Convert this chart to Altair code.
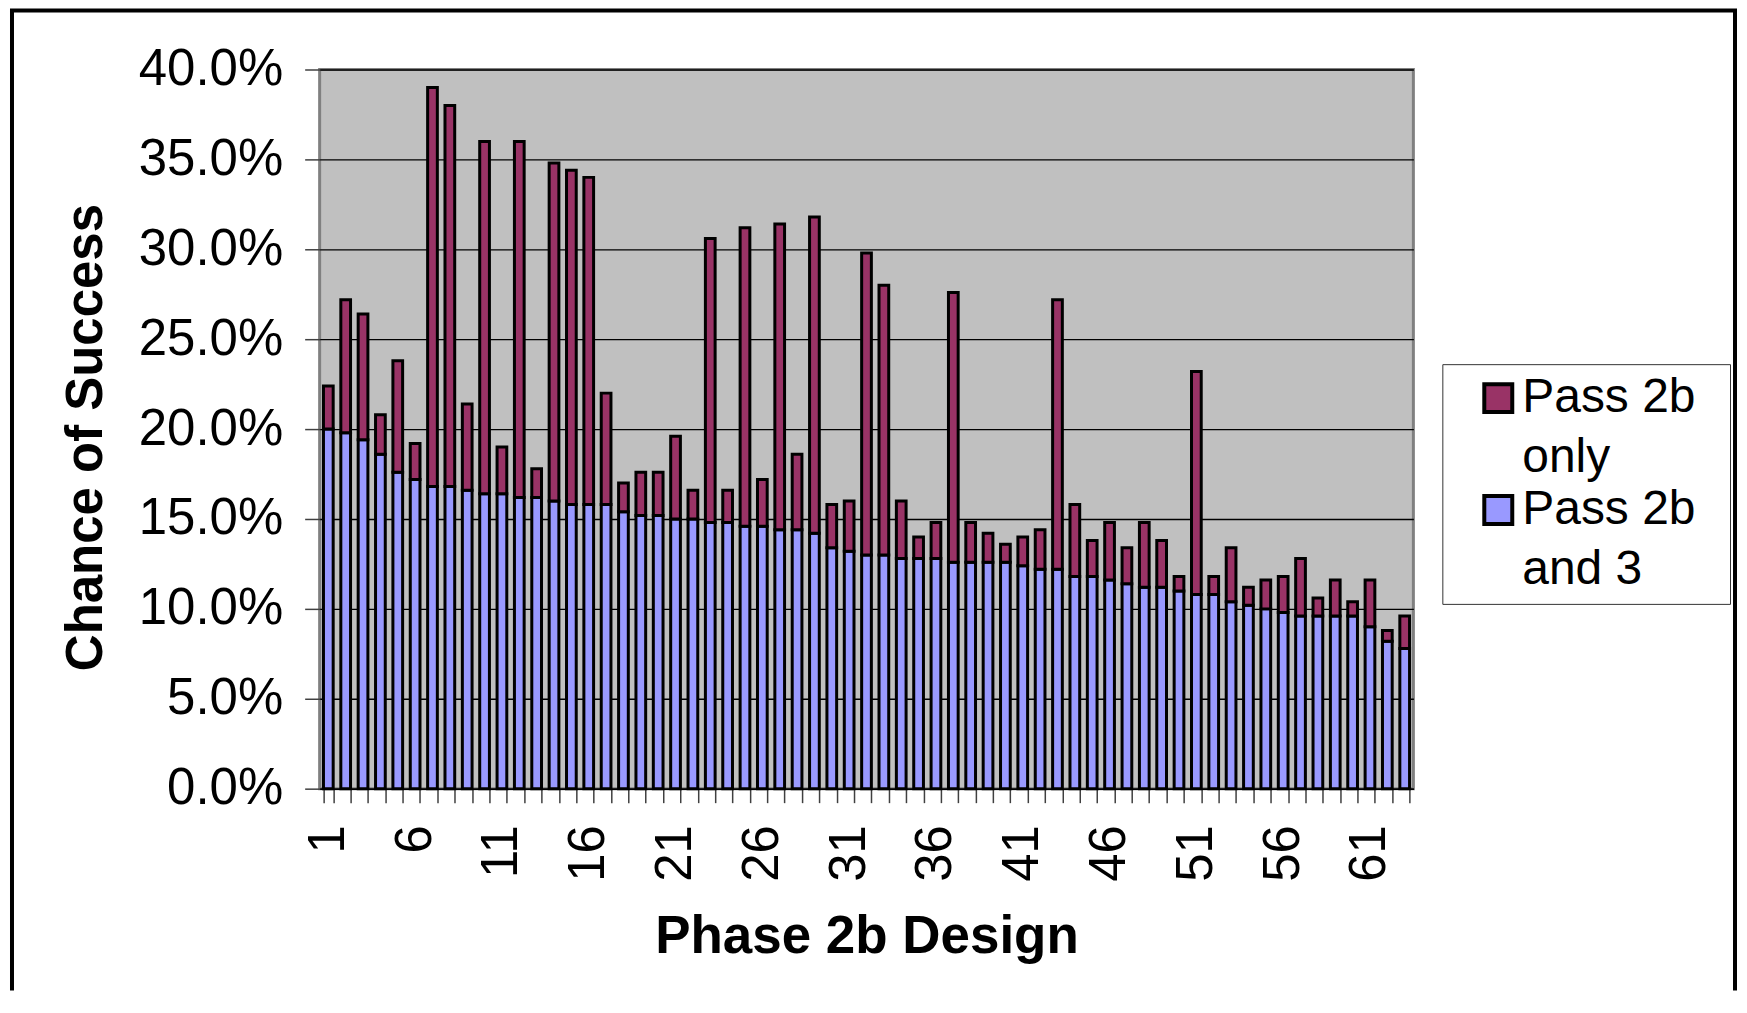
import altair as alt
import pandas as pd

# ---- data (percent) ----
designs = list(range(1, 64))
pass_2b_total = [22.4, 27.2, 26.4, 20.8, 23.8, 19.2, 39.0, 38.0, 21.4, 36.0,
                 19.0, 36.0, 17.8, 34.8, 34.4, 34.0, 22.0, 17.0, 17.6, 17.6,
                 19.6, 16.6, 30.6, 16.6, 31.2, 17.2, 31.4, 18.6, 31.8, 15.8,
                 16.0, 29.8, 28.0, 16.0, 14.0, 14.8, 27.6, 14.8, 14.2, 13.6,
                 14.0, 14.4, 27.2, 15.8, 13.8, 14.8, 13.4, 14.8, 13.8, 11.8,
                 23.2, 11.8, 13.4, 11.2, 11.6, 11.8, 12.8, 10.6, 11.6, 10.4,
                 11.6, 8.8, 9.6]
pass_2b_and_3 = [20.0, 19.8, 19.4, 18.6, 17.6, 17.2, 16.8, 16.8, 16.6, 16.4,
                 16.4, 16.2, 16.2, 16.0, 15.8, 15.8, 15.8, 15.4, 15.2, 15.2,
                 15.0, 15.0, 14.8, 14.8, 14.6, 14.6, 14.4, 14.4, 14.2, 13.4,
                 13.2, 13.0, 13.0, 12.8, 12.8, 12.8, 12.6, 12.6, 12.6, 12.6,
                 12.4, 12.2, 12.2, 11.8, 11.8, 11.6, 11.4, 11.2, 11.2, 11.0,
                 10.8, 10.8, 10.4, 10.2, 10.0, 9.8, 9.6, 9.6, 9.6, 9.6,
                 9.0, 8.2, 7.8]
series_names = ["Pass 2b only", "Pass 2b and 3"]
series_colors = ["#993366", "#9999FF"]
y_ticks = [0.0, 0.05, 0.10, 0.15, 0.20, 0.25, 0.30, 0.35, 0.40]

rows = []
for d, tot, both in zip(designs, pass_2b_total, pass_2b_and_3):
    rows.append({"design": d, "series": series_names[1], "lo": 0.0, "hi": both / 100})
    rows.append({"design": d, "series": series_names[0], "lo": both / 100, "hi": tot / 100})
df = pd.DataFrame(rows)

FONT = "Liberation Sans"
W, H = 1095, 720

bars = alt.Chart(df).mark_bar(stroke="black", strokeWidth=3).encode(
    x=alt.X(
        "design:O",
        scale=alt.Scale(paddingInner=0.44, paddingOuter=0.22),
        title="Phase 2b Design",
        axis=alt.Axis(
            labelAngle=-90,
            labelExpr="(datum.value - 1) % 5 == 0 ? datum.label : ''",
            labelOverlap=False,
            labelFontSize=51,
            labelPadding=22,
            tickBand="extent",
            tickSize=14,
            tickColor="#404040",
            tickWidth=1.5,
            domainColor="black",
            domainWidth=1.5,
            grid=False,
            titleFontSize=53,
            titleFontWeight="bold",
            titlePadding=29,
        ),
    ),
    y=alt.Y(
        "lo:Q",
        scale=alt.Scale(domain=[0, 0.4], nice=False),
        title="Chance of Success",
        axis=alt.Axis(
            values=y_ticks,
            format=".1%",
            labelFontSize=51,
            labelPadding=22,
            tickSize=15,
            tickColor="#404040",
            tickWidth=1.5,
            domain=False,
            grid=True,
            gridColor="black",
            gridWidth=1.3,
            titleFontSize=51,
            titleFontWeight="bold",
            titlePadding=26,
            titleY=368,
        ),
    ),
    y2="hi:Q",
    color=alt.Color(
        "series:N",
        scale=alt.Scale(domain=series_names, range=series_colors),
        legend=alt.Legend(
            title="n",
            titleOrient="right",
            titleColor="white",
            titleFontSize=20,
            titlePadding=12,
            orient="none",
            legendX=1124,
            legendY=295,
            fillColor="white",
            strokeColor="#333333",
            padding=10,
            symbolType="square",
            symbolSize=784,
            symbolStrokeColor="black",
            symbolStrokeWidth=4,
            symbolOffset=22,
            labelOffset=0,
            labelFontSize=48,
            labelBaseline="middle",
            labelExpr="[slice(datum.label, 0, 7), slice(datum.label, 8)]",
            labelLimit=400,
            rowPadding=4,
        ),
    ),
    order=alt.Order("lo:Q"),
)

one = pd.DataFrame({"k": [0]})
frame_left = alt.Chart(one).mark_rule(color="black", strokeWidth=4).encode(
    x=alt.value(-308), y=alt.value(-59), y2=alt.value(922))
frame_top = alt.Chart(one).mark_rule(color="black", strokeWidth=4).encode(
    x=alt.value(-310), x2=alt.value(1419), y=alt.value(-59))
frame_right = alt.Chart(one).mark_rule(color="black", strokeWidth=4).encode(
    x=alt.value(1417), y=alt.value(-59), y2=alt.value(922))

chart = alt.layer(bars, frame_left, frame_top, frame_right).properties(
    width=W, height=H, padding=0, background="white"
).configure(
    font=FONT,
    style={"guide-label": {"lineHeight": 60}},
).configure_axis(
    labelFont=FONT, titleFont=FONT, labelColor="black", titleColor="black",
).configure_legend(
    labelFont=FONT, labelColor="black", titleFont=FONT,
).configure_view(
    fill="#C0C0C0", stroke="#808080", strokeWidth=3,
)

chart.save("out.html", embed_options={"renderer": "svg", "actions": False})
